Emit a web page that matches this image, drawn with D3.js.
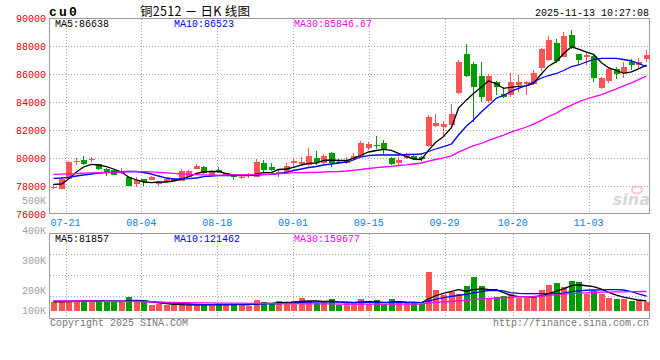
<!DOCTYPE html>
<html><head><meta charset="utf-8">
<script src="https://cdn.jsdelivr.net/npm/d3@7"></script>
<style>body{margin:0;background:#fff;}svg{display:block;}</style>
</head><body>
<svg id="c" width="660" height="360"></svg>
<script>
const dates = ["07-17","07-18","07-21","07-22","07-23","07-24","07-25","07-28","07-29","07-30","07-31","08-01","08-04","08-05","08-06","08-07","08-08","08-11","08-12","08-13","08-14","08-15","08-18","08-19","08-20","08-21","08-22","08-25","08-26","08-27","08-28","08-29","09-01","09-02","09-03","09-04","09-05","09-08","09-09","09-10","09-11","09-12","09-15","09-16","09-17","09-18","09-19","09-22","09-23","09-24","09-25","09-26","09-29","09-30","10-09","10-10","10-13","10-14","10-15","10-16","10-17","10-20","10-21","10-22","10-23","10-24","10-27","10-28","10-29","10-30","10-31","11-03","11-04","11-05","11-06","11-07","11-10","11-11","11-12","11-13"];
const open  = [77900,77810,78500,79780,79880,79940,79570,79210,79140,78910,78660,78140,78500,78450,78140,78310,78380,78380,78660,79210,79380,78790,79140,78750,78786,78650,78660,78660,79620,79380,78860,78980,79640,79590,79500,80000,79660,80360,79740,79620,79910,80140,80690,80950,81050,80020,79660,79980,80140,80050,80860,82290,82240,82360,84620,87430,86690,85860,84070,85450,84570,84500,85210,85290,85260,86410,87000,88240,87240,88790,87430,87190,87290,84980,85520,86340,86050,86840,86640,87070];
const high  = [78120,78650,79780,79980,80140,80090,79600,79300,79170,79290,78700,78640,78530,78700,78350,78560,78540,79190,79120,79570,79400,79140,79380,78950,78800,78840,78930,79930,79860,79660,79140,79640,79980,80070,80740,80500,80290,80450,79930,80070,80360,81240,81160,81570,81290,80070,80070,80360,80180,80160,83070,83140,82640,83860,87000,88140,86840,86840,86000,85520,85100,86050,85950,85500,86290,87840,88740,88480,89020,89140,87450,87590,87350,85760,86520,86480,86880,87050,87120,87710];
const low   = [77760,77800,78480,79500,79500,79710,79170,78740,78780,78860,77980,77950,78020,78400,78020,78280,78350,78330,78620,79180,78880,78760,78950,78700,78430,78520,78570,78620,79020,79100,78660,78910,79450,79500,79450,79500,79600,79380,79570,79590,79880,80090,80570,80620,80290,79500,79500,79950,79880,79790,80760,82190,81570,82300,84550,85760,82550,84020,83910,84500,84260,84380,84740,84500,85230,86210,86930,86760,87200,87760,86640,86640,85450,84910,85380,85620,85690,86290,86340,86880];
const close = [77910,78480,79740,79790,79570,79950,79210,78900,78810,79070,78020,78450,78310,78660,78300,78500,78500,79070,79070,79450,78910,79090,78980,78907,78643,78670,78760,79740,79140,79140,79020,79430,79790,79710,80140,79740,80140,79640,79710,79860,80160,81090,81000,80920,80570,79570,79880,80210,79910,79930,82930,82480,82430,83140,86840,85880,85090,84380,85860,85050,84380,85450,85450,85450,86050,87790,88430,86950,88710,87950,87000,87360,85690,85690,86340,85980,86480,86640,86860,87360];
const volume = [74000,82000,82000,74000,88000,74000,88000,74000,74000,74000,112000,88000,71000,47000,61000,47000,49000,61000,47000,47000,47000,61000,61000,47000,61000,47000,44000,88000,71000,63000,82000,66000,80000,107000,80000,63000,80000,96000,47000,71000,71000,96000,61000,88000,55000,96000,71000,71000,71000,61000,320000,170000,129000,156000,137000,203000,276000,203000,110000,115000,121000,143000,110000,110000,115000,170000,211000,230000,197000,244000,235000,143000,162000,143000,107000,96000,96000,80000,88000,74000];
const ma5  = [78121,78143,78500,79000,79357,79550,79500,79379,79214,79000,78643,78429,78286,78236,78286,78286,78357,78500,78643,78907,79000,79050,79036,78907,78786,78750,78736,78857,78950,78950,79179,79214,79336,79500,79621,79643,79821,79857,79821,79821,79979,80179,80429,80536,80621,80550,80336,80093,79929,79893,80550,81100,81540,82180,83560,84150,84600,85070,85500,85300,84970,85050,85120,85150,85320,86020,86560,86900,87450,87940,87780,87560,87400,86800,86450,86250,86050,86150,86370,86638];
const ma10 = [78550,78571,78621,78714,78786,78857,78929,78950,78979,79021,79036,79036,78964,78857,78714,78571,78500,78500,78521,78571,78664,78714,78736,78736,78750,78764,78764,78764,78807,78836,78893,78979,79107,79214,79321,79393,79500,79571,79643,79714,79857,80071,80164,80214,80214,80214,80214,80264,80264,80286,80464,80643,80807,81000,81643,82286,82714,83300,83750,84280,84464,84736,84979,85179,85429,85714,85893,86036,86250,86536,86643,86857,87036,87121,87121,87121,87036,86929,86750,86523];
const ma30 = [78830,78850,78870,78890,78920,78940,78960,78980,78990,79000,79010,79020,79020,79010,78980,78940,78900,78860,78830,78810,78790,78770,78770,78780,78790,78800,78810,78830,78840,78857,78893,78907,78950,78950,78964,78979,79000,79021,79036,79071,79121,79179,79250,79307,79357,79407,79464,79514,79571,79643,79779,79893,80007,80150,80421,80664,80879,81036,81257,81457,81636,81836,82021,82214,82414,82686,82964,83207,83507,83779,84007,84214,84371,84529,84721,84936,85157,85371,85600,85847];
const volMa5  = [75000,76000,78000,80000,82000,82000,82000,81000,80000,78000,84000,86000,84000,75000,67000,60000,55000,52000,51000,50000,50000,52000,54000,53000,55000,54000,53000,58000,63000,63000,68000,70000,72000,78000,83000,82000,78000,80000,75000,72000,68000,72000,76000,75000,70000,72000,76000,72000,70000,68000,100000,125000,145000,160000,175000,162000,175000,182000,178000,175000,150000,130000,117000,115000,113000,125000,142000,163000,182000,208000,215000,207000,200000,180000,153000,130000,113000,101000,90000,81857];
const volMa10 = [80000,80000,80000,80000,80000,80000,80000,80000,80000,80000,82000,82000,80000,76000,72000,68000,64000,61000,58000,55000,53000,52000,52000,52000,53000,53000,53000,56000,58000,58000,60000,62000,65000,70000,72000,72000,74000,74000,72000,71000,70000,71000,70000,70000,69000,70000,71000,71000,70000,69000,82000,95000,110000,120000,129000,137000,148000,158000,168000,168000,165000,150000,145000,143000,142000,142000,141000,140000,147000,158000,165000,170000,172000,173000,175000,175000,172000,158000,140000,121462];
const volMa30 = [82000,82000,82000,82000,82000,81000,81000,80000,80000,79000,79000,78000,77000,75000,73000,71000,70000,69000,68000,67000,66000,66000,65000,65000,64000,64000,63000,63000,62000,62000,61000,61000,60000,60000,59000,59000,58000,58000,57000,57000,57000,57000,57000,57000,57000,57000,57000,57000,57000,57000,66000,70000,74000,78000,82000,88000,95000,100000,103000,105000,108000,112000,115000,117000,119000,123000,128000,133000,138000,143000,146000,149000,152000,154000,155000,156000,157000,158000,159000,159677];
const priceTicks = [90000,88000,86000,84000,82000,80000,78000,76000];
const priceGrid = [88000,86000,84000,82000,80000,78000];
const volTicks = [500000,400000,300000,200000,100000];
const volTickLabels = ["500K","400K","300K","200K","100K"];
const dateTicks = ["07-21","08-04","08-18","09-01","09-15","09-29","10-20","11-03"];
const priceLegend = ["MA5:86638","MA10:86523","MA30:85846.67"];
const volLegend = ["MA5:81857","MA10:121462","MA30:159677"];
const symbolText = "cu0";
const titleText = "铜2512 － 日K 线图";
const timeText = "2025-11-13 10:27:08";
const copyText = "Copyright 2025 SINA.COM";
const urlText = "http://finance.sina.com.cn";

const svg = d3.select("#c");
const MONO = "'Liberation Mono','DejaVu Sans Mono',monospace";
const RED = "#ff5454", GREEN = "#009c00";
const lineColors = ["#000000","#0000ff","#ff00ff"];

const x = d3.scaleLinear().domain([0, 80]).range([50, 650]);
const gx = d3.scaleLinear().domain([0, 80]).range([50.4, 656.8]);
const y = d3.scaleLinear().domain([76000, 90000]).range([214, 18]);
const yv = d3.scaleLinear().domain([0, 500000]).range([311, 250]);
const yvLabel = d3.scaleLinear().domain([100000, 500000]).range([321, 200]);
const cx = i => Math.round(x(i)) + 3.5;

const data = dates.map((d, i) => ({i, d, o: open[i], h: high[i], l: low[i], c: close[i], v: volume[i]}));
const tickIdx = dateTicks.map(t => dates.indexOf(t));

// grids
const grid = svg.append("g").attr("stroke", "#a8a8a8").attr("stroke-dasharray", "1,2").attr("shape-rendering", "crispEdges");
grid.selectAll("line.h").data(priceGrid).join("line")
  .attr("x1", 50).attr("x2", 649).attr("y1", v => Math.round(y(v)) + 0.5).attr("y2", v => Math.round(y(v)) + 0.5);
grid.selectAll("line.vm").data(tickIdx).join("line")
  .attr("x1", i => Math.round(gx(i)) + 0.5).attr("x2", i => Math.round(gx(i)) + 0.5).attr("y1", 19).attr("y2", 213);
grid.append("g").selectAll("line").data(tickIdx).join("line")
  .attr("x1", i => Math.round(gx(i)) + 0.5).attr("x2", i => Math.round(gx(i)) + 0.5).attr("y1", 234).attr("y2", 321);
grid.append("g").selectAll("line").data([1, 2, 3]).join("line")
  .attr("x1", 50).attr("x2", 649).attr("y1", k => Math.round(233.5 + k * 20.8) + 0.5).attr("y2", k => Math.round(233.5 + k * 20.8) + 0.5);

// watermark
const wm = svg.append("g").attr("opacity", 0.55);
wm.append("text").attr("x", 650).attr("y", 205).attr("text-anchor", "end")
  .attr("font-family", "'DejaVu Sans',sans-serif").attr("font-style", "italic").attr("font-weight", "bold")
  .attr("font-size", 16).attr("fill", "#b8b8b8").text("sina");
wm.append("ellipse").attr("cx", 637).attr("cy", 190).attr("rx", 5).attr("ry", 3.5)
  .attr("fill", "none").attr("stroke", "#f2a0a0").attr("stroke-width", 2);

// frames
const fr = svg.append("g").attr("fill", "none").attr("stroke", "#9a9a9a").attr("shape-rendering", "crispEdges");
fr.append("rect").attr("x", 49.5).attr("y", 18.5).attr("width", 600).attr("height", 195);
fr.append("rect").attr("x", 49.5).attr("y", 233.5).attr("width", 600).attr("height", 85);

// candles
const cg = svg.append("g").attr("shape-rendering", "crispEdges");
const col = d => d.c >= d.o ? RED : GREEN;
cg.selectAll("line.w").data(data).join("line").attr("class", "w")
  .attr("x1", d => cx(d.i)).attr("x2", d => cx(d.i))
  .attr("y1", d => y(d.h)).attr("y2", d => y(d.l)).attr("stroke", col);
const bodies = data.filter(d => Math.abs(y(d.o) - y(d.c)) >= 1.5);
const crosses = data.filter(d => Math.abs(y(d.o) - y(d.c)) < 1.5);
cg.selectAll("rect.b").data(bodies).join("rect").attr("class", "b")
  .attr("x", d => Math.round(x(d.i)) + 0.5).attr("width", 6)
  .attr("y", d => y(Math.max(d.o, d.c))).attr("height", d => y(Math.min(d.o, d.c)) - y(Math.max(d.o, d.c)))
  .attr("fill", col);
cg.selectAll("line.x").data(crosses).join("line").attr("class", "x")
  .attr("x1", d => Math.round(x(d.i)) + 0.5).attr("x2", d => Math.round(x(d.i)) + 6.5)
  .attr("y1", d => Math.round(y(d.c)) + 0.5).attr("y2", d => Math.round(y(d.c)) + 0.5).attr("stroke", col);

// volume bars
svg.append("g").attr("shape-rendering", "crispEdges").selectAll("rect").data(data).join("rect")
  .attr("x", d => Math.round(x(d.i)) + 0.5).attr("width", 6)
  .attr("y", d => yv(d.v)).attr("height", d => yv(0) - yv(d.v)).attr("fill", col);

// MA lines
const pl = d3.line().x((d, i) => cx(i)).y(d => y(d));
const vl = d3.line().x((d, i) => cx(i)).y(d => yv(d));
svg.append("g").attr("fill", "none").attr("stroke-width", 1.3).selectAll("path").data([ma5, ma10, ma30]).join("path")
  .attr("d", pl).attr("stroke", (d, k) => lineColors[k]);
svg.append("g").attr("fill", "none").attr("stroke-width", 1.3).selectAll("path").data([volMa5, volMa10, volMa30]).join("path")
  .attr("d", vl).attr("stroke", (d, k) => lineColors[k]);

// axis labels
const ax = svg.append("g").attr("font-family", MONO).attr("font-size", 10);
ax.selectAll("text.p").data(priceTicks).join("text").attr("class", "p")
  .attr("x", 46).attr("y", v => Math.max(y(v), 15.5)).attr("dy", "0.35em").attr("text-anchor", "end")
  .attr("fill", "#e00000").text(v => v);
ax.selectAll("text.v").data(volTicks).join("text").attr("class", "v")
  .attr("x", 46).attr("y", v => Math.min(yvLabel(v), 310)).attr("dy", "0.35em").attr("text-anchor", "end")
  .attr("fill", "#a0a0a0").text((v, k) => volTickLabels[k]);
ax.selectAll("text.d").data(tickIdx).join("text").attr("class", "d")
  .attr("x", i => gx(i)).attr("y", 222).attr("dy", "0.35em").attr("text-anchor", "middle")
  .attr("fill", "#0a80e0").text((i, k) => dateTicks[k]);

// legends
const lgX = [55, 174, 294];
ax.selectAll("text.lp").data(priceLegend).join("text").attr("class", "lp")
  .attr("x", (t, k) => lgX[k]).attr("y", 23.5).attr("dy", "0.35em").attr("fill", (t, k) => lineColors[k]).text(t => t);
ax.selectAll("text.lv").data(volLegend).join("text").attr("class", "lv")
  .attr("x", (t, k) => lgX[k]).attr("y", 238.5).attr("dy", "0.35em").attr("fill", (t, k) => lineColors[k]).text(t => t);

// header
svg.append("text").attr("x", 49).attr("y", 15.5).attr("font-family", MONO).attr("font-weight", "bold")
  .attr("font-size", 13).attr("letter-spacing", 2.2).attr("fill", "#000").text(symbolText);
svg.append("text").attr("x", 140).attr("y", 16).attr("font-family", "'Noto Sans CJK SC',sans-serif")
  .attr("font-size", 12.5).attr("fill", "#000").attr("textLength", 110).attr("lengthAdjust", "spacing").text(titleText);
svg.append("text").attr("x", 649).attr("y", 15.5).attr("text-anchor", "end").attr("font-family", MONO)
  .attr("font-size", 10).attr("fill", "#000").text(timeText);

// footer
svg.append("text").attr("x", 50).attr("y", 326).attr("font-family", MONO).attr("font-size", 10)
  .attr("fill", "#777").text(copyText);
svg.append("text").attr("x", 649).attr("y", 326).attr("text-anchor", "end").attr("font-family", MONO).attr("font-size", 10)
  .attr("fill", "#777").text(urlText);
</script>
</body></html>
